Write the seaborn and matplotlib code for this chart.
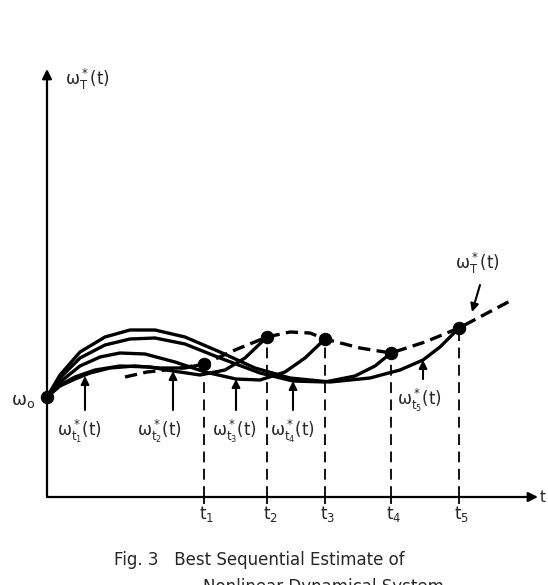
import numpy as np
import pandas as pd
import matplotlib.pyplot as plt
import seaborn as sns

# Valores (x = tempo, y = omega), unidades arbitrárias
w0 = 100

t_names = ["t_1", "t_2", "t_3", "t_4", "t_5"]
t_x = [157, 220, 278, 344, 412]
t_y = [133, 160, 158, 144, 169]

# trajetória verdadeira (tracejada)
true_x = [78, 100, 128, 157, 188, 220, 243, 263, 278, 313, 344, 378, 412, 465]
true_y = [120, 125, 128, 133, 147, 160, 165, 164, 158, 149, 144, 155, 169, 197]

# estimativas sequenciais w*_ti(t)
est1_x = [0, 13, 28, 43, 63, 88, 113, 138, 157]
est1_y = [100, 111, 118, 124, 129, 131, 129, 129, 133]
est2_x = [0, 13, 28, 48, 73, 103, 126, 153, 178, 198, 220]
est2_y = [100, 112, 120, 127, 131, 130, 126, 122, 127, 139, 160]
est3_x = [0, 13, 33, 53, 73, 98, 128, 158, 189, 213, 238, 258, 278]
est3_y = [100, 115, 131, 140, 144, 143, 135, 125, 118, 117, 125, 139, 158]
est4_x = [0, 13, 33, 58, 83, 108, 138, 173, 213, 246, 278, 308, 328, 344]
est4_y = [100, 119, 139, 152, 158, 159, 153, 139, 124, 116, 115, 121, 131, 144]
est5_x = [0, 13, 33, 58, 83, 108, 138, 173, 208, 243, 283, 323, 353, 376, 393, 412]
est5_y = [100, 122, 145, 160, 167, 167, 160, 145, 129, 119, 115, 119, 127, 137, 150, 169]

# posição das setas dos rótulos (x na curva)
arrow_x = [38, 126, 189, 246, 376]
arrow_tip = [121, 126, 118, 116, 137]

sns.set_style("white")
plt.rcParams["font.family"] = ["DejaVu Sans"]
plt.rcParams["mathtext.fontset"] = "dejavusans"
plt.rcParams["mathtext.default"] = "regular"

fig = plt.figure(figsize=(5.48, 5.85), dpi=100)
ax = fig.add_axes([0, 0, 1, 1])
ax.set_xlim(-47, 501)
ax.set_ylim(-88, 497)
ax.axis("off")

# eixos com setas
ax.annotate("", xy=(0, 428), xytext=(0, 0),
            arrowprops=dict(arrowstyle="-|>", lw=1.6, color="black",
                            mutation_scale=14, shrinkA=0, shrinkB=0))
ax.annotate("", xy=(491, 0), xytext=(0, 0),
            arrowprops=dict(arrowstyle="-|>", lw=1.6, color="black",
                            mutation_scale=14, shrinkA=0, shrinkB=0))
ax.text(41, 418, r"$\omega^*_T(t)$", fontsize=12, ha="center", va="center")
ax.text(493, 0, "t", fontsize=11, ha="left", va="center")
ax.text(-24, 96, r"$\omega_o$", fontsize=13, ha="center", va="center")

# curvas de estimativa
for cx, cy in [(est1_x, est1_y), (est2_x, est2_y), (est3_x, est3_y),
               (est4_x, est4_y), (est5_x, est5_y)]:
    sns.lineplot(x=cx, y=cy, ax=ax, color="black", lw=2.4, sort=False,
                 estimator=None, solid_capstyle="round")

sns.lineplot(x=true_x, y=true_y, ax=ax, color="black", lw=2.4, sort=False,
             estimator=None, linestyle=(0, (3.7, 1.9)))

# linhas verticais tracejadas e marcas
ax.vlines(t_x, 0, t_y, colors="black", lw=1.3, linestyles=(0, (6, 3.6)))
ax.vlines(t_x, -7, 0, colors="black", lw=1.3)
for x, name in zip(t_x, t_names):
    ax.text(x + 3, -7, f"${name}$", fontsize=12, ha="center", va="top")

sns.scatterplot(x=[0] + t_x, y=[w0] + t_y, ax=ax, s=80, color="black",
                edgecolor="black", zorder=5)

# rótulos das estimativas
lab_pos = [(33, 79), (113, 79), (188, 79), (246, 79), (373, 110)]
for i, (lx, ly) in enumerate(lab_pos):
    ax.text(lx, ly, rf"$\omega^*_{{t_{i + 1}}}(t)$", fontsize=12,
            ha="center", va="top")
    ax.annotate("", xy=(arrow_x[i], arrow_tip[i]), xytext=(arrow_x[i], ly + 8),
                arrowprops=dict(arrowstyle="-|>", lw=1.5, color="black",
                                mutation_scale=12, shrinkA=0, shrinkB=0))

ax.text(431, 234, r"$\omega^*_T(t)$", fontsize=12, ha="center", va="center")
ax.annotate("", xy=(425, 185), xytext=(433, 212),
            arrowprops=dict(arrowstyle="-|>", lw=1.5, color="black",
                            mutation_scale=12, shrinkA=0, shrinkB=0))

fig.text(0.208, 0.043, "Fig. 3   Best Sequential Estimate of", fontsize=12,
         ha="left", va="center")
fig.text(0.37, 0.012, "Nonlinear Dynamical System", fontsize=12,
         ha="left", va="top")

fig.savefig("out.png", dpi=100)
